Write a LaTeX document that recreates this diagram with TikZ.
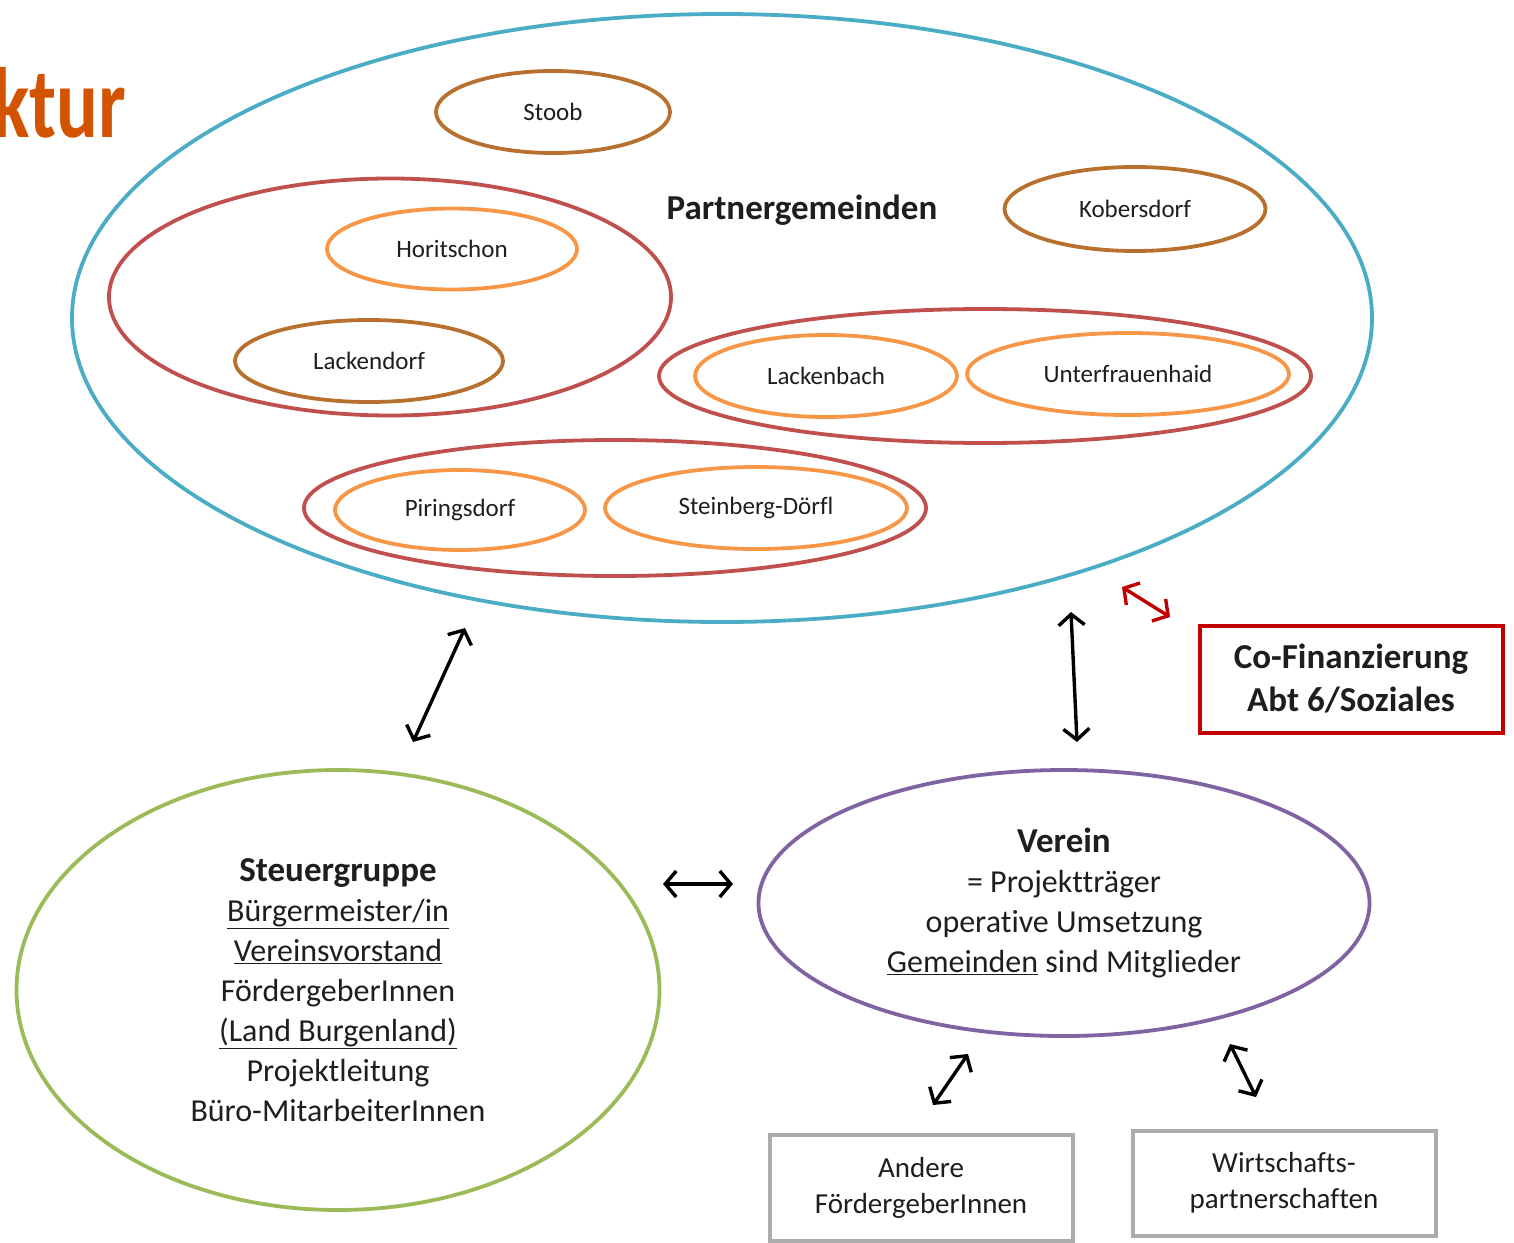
\documentclass[tikz,border=0pt]{standalone}
\usepackage{fontspec}
\setmainfont[Ligatures=NoCommon]{Carlito}
\usetikzlibrary{arrows.meta,shapes.geometric}
\definecolor{partnercolor}{HTML}{4BACC6}
\definecolor{groupcolor}{HTML}{C0504D}
\definecolor{villagecolor}{HTML}{F79646}
\definecolor{towncolor}{HTML}{B8702F}
\definecolor{steercolor}{HTML}{9BBB59}
\definecolor{vereincolor}{HTML}{8064A2}
\definecolor{fundcolor}{HTML}{C00000}
\definecolor{titlecolor}{HTML}{D35400}
\definecolor{textcolor}{HTML}{1E1E1E}
\tikzset{
  org ring/.style={ellipse,draw,line width=3.8pt,inner sep=0pt},
  org group/.style={org ring,draw=groupcolor},
  org village/.style={org ring,draw=villagecolor,font=\fontsize{25}{30}\selectfont},
  org town/.style={org ring,draw=towncolor,font=\fontsize{25}{30}\selectfont},
  org head/.style={font=\fontsize{35}{43}\selectfont\bfseries},
  org body/.style={org ring,align=center,font=\fontsize{32}{40}\selectfont},
  org box/.style={draw=gray!65,line width=4pt,align=center,inner sep=0pt,font=\fontsize{29}{36}\selectfont},
  org arrow/.style={line width=3.4pt,{Straight Barb[length=11pt,width=26pt]}-{Straight Barb[length=11pt,width=26pt]}}
}

\begin{document}
\begin{tikzpicture}[x=1pt,y=-1pt,text=textcolor]
  \useasboundingbox (0,0) rectangle (1514,1242);
  \node[anchor=base east,text=titlecolor,font=\fontsize{100}{110}\selectfont\bfseries] (title) at (130,137) {\scalebox{.78}[1]{ktur}};
  \node[org ring,draw=partnercolor,minimum width=1300,minimum height=608] (partner) at (722,318) {};
  \node[org head] (partnerlabel) at (802,210) {Partnergemeinden};
  \node[org town,minimum width=234,minimum height=82] (stoob) at (553,112) {Stoob};
  \node[org town,minimum width=261,minimum height=84] (kobersdorf) at (1135,209) {Kobersdorf};
  \node[org group,minimum width=562,minimum height=237] (groupa) at (390,297) {};
  \node[org village,minimum width=250,minimum height=81] (horitschon) at (452,249) {Horitschon};
  \node[org town,minimum width=268,minimum height=82] (lackendorf) at (369,361) {Lackendorf};
  \node[org group,minimum width=652,minimum height=134] (groupb) at (985,376) {};
  \node[org village,minimum width=262,minimum height=82] (lackenbach) at (826,376) {Lackenbach};
  \node[org village,minimum width=322,minimum height=82] (unterfrauenhaid) at (1128,374) {Unterfrauenhaid};
  \node[org group,minimum width=622,minimum height=136] (groupc) at (615,508) {};
  \node[org village,minimum width=250,minimum height=80] (piringsdorf) at (460,510) {Piringsdorf};
  \node[org village,minimum width=302,minimum height=82] (steinberg) at (756,508) {Steinberg-Dörfl};

  \node[org body,draw=steercolor,minimum width=643,minimum height=440] (steuer) at (338,990)
    {{\fontsize{35}{40}\selectfont\bfseries Steuergruppe}\\\underline{Bürgermeister/in}\\\underline{Vereinsvorstand}\\FördergeberInnen\\\underline{(Land Burgenland)}\\Projektleitung\\Büro-MitarbeiterInnen};
  \node[org body,draw=vereincolor,minimum width=611,minimum height=266] (verein) at (1064,903)
    {{\fontsize{35}{40}\selectfont\bfseries Verein}\\= Projektträger\\operative Umsetzung\\\underline{Gemeinden} sind Mitglieder};

  \node[org box,draw=fundcolor,minimum width=303,minimum height=107,font=\fontsize{35}{43}\selectfont\bfseries] (cofin) at (1351,679) {Co-Finanzierung\\Abt 6/Soziales};
  \node[org box,minimum width=303,minimum height=106] (andere) at (921,1188) {Andere\\FördergeberInnen};
  \node[org box,minimum width=303,minimum height=105] (wirtschaft) at (1284,1183) {Wirtschafts-\\partnerschaften};

  \coordinate (partnersw) at (465,628);
  \coordinate (steuern) at (413,742);
  \coordinate (partnerse) at (1071,612);
  \coordinate (vereinn) at (1077,742);
  \coordinate (steuere) at (663,884);
  \coordinate (vereinw) at (733,884);
  \coordinate (partnerfund) at (1122,587);
  \coordinate (cofinnw) at (1170,617);
  \coordinate (vereinsw) at (968,1054);
  \coordinate (anderen) at (933,1105);
  \coordinate (vereinse) at (1230,1044);
  \coordinate (wirtschaftn) at (1256,1097);

  \draw[org arrow] (partnersw) -- (steuern);
  \draw[org arrow] (partnerse) -- (vereinn);
  \draw[org arrow] (steuere) -- (vereinw);
  \draw[org arrow,draw=fundcolor] (partnerfund) -- (cofinnw);
  \draw[org arrow] (vereinsw) -- (anderen);
  \draw[org arrow] (vereinse) -- (wirtschaftn);
\end{tikzpicture}
\end{document}
